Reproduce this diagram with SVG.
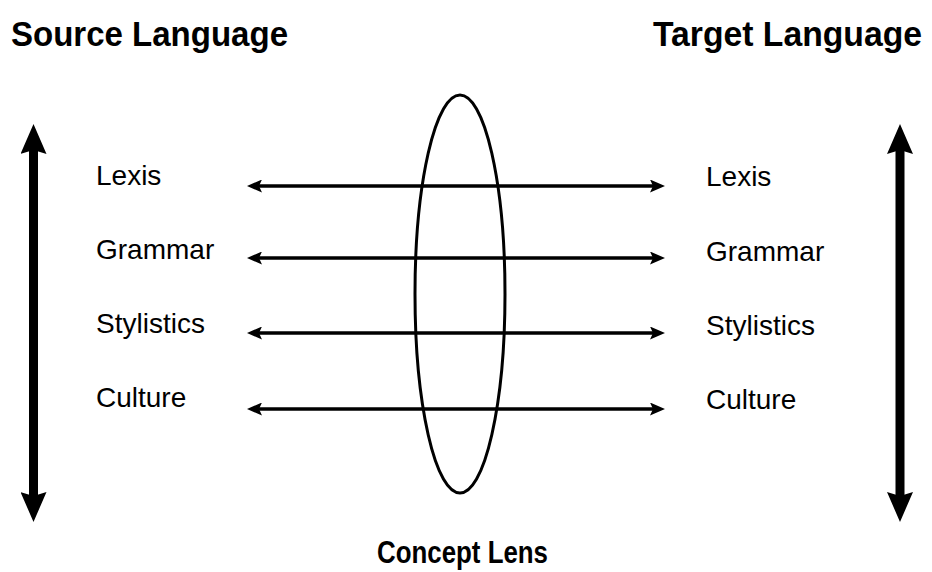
<svg xmlns="http://www.w3.org/2000/svg" width="932" height="572" viewBox="0 0 932 572">
<style>
.title{font-family:"Liberation Sans",Arial,sans-serif;font-weight:bold;font-size:35px;fill:#000}
.lbl{font-family:"Liberation Sans",Arial,sans-serif;font-size:28px;fill:#000}
.h{stroke:#000;stroke-width:3.5;fill:none}
.v{stroke:#000;stroke-width:9;fill:none}
</style>
<defs>
<marker id="ah" viewBox="0 0 15 13" refX="3" refY="6.5" markerWidth="15" markerHeight="13" markerUnits="userSpaceOnUse" orient="auto-start-reverse">
<path d="M0,0 L15,6.5 L0,13 L3,6.5 Z" fill="#000"/>
</marker>
<marker id="bh" viewBox="0 0 30 26" refX="4" refY="13" markerWidth="30" markerHeight="26" markerUnits="userSpaceOnUse" orient="auto-start-reverse">
<path d="M0,0 L30,13 L0,26 L4,13 Z" fill="#000"/>
</marker>
</defs>
<g id="titles">
<text class="title" x="11" y="46" textLength="277" lengthAdjust="spacingAndGlyphs">Source Language</text>
<text class="title" x="653" y="46" textLength="269" lengthAdjust="spacingAndGlyphs">Target Language</text>
<text class="title" x="377" y="563" style="font-size:31px" textLength="171" lengthAdjust="spacingAndGlyphs">Concept Lens</text>
</g>
<g id="lens">
<ellipse cx="460" cy="294" rx="45" ry="199" fill="none" stroke="#000" stroke-width="3"/>
</g>
<g id="source">
<text class="lbl" x="96" y="185">Lexis</text>
<text class="lbl" x="96" y="259">Grammar</text>
<text class="lbl" x="96" y="333">Stylistics</text>
<text class="lbl" x="96" y="407">Culture</text>
</g>
<g id="target">
<text class="lbl" x="706" y="186">Lexis</text>
<text class="lbl" x="706" y="261">Grammar</text>
<text class="lbl" x="706" y="335">Stylistics</text>
<text class="lbl" x="706" y="409">Culture</text>
</g>
<g id="connectors">
<line class="h" x1="259" y1="186" x2="653" y2="186" marker-start="url(#ah)" marker-end="url(#ah)"/>
<line class="h" x1="259" y1="258" x2="653" y2="258" marker-start="url(#ah)" marker-end="url(#ah)"/>
<line class="h" x1="259" y1="333" x2="653" y2="333" marker-start="url(#ah)" marker-end="url(#ah)"/>
<line class="h" x1="259" y1="409" x2="653" y2="409" marker-start="url(#ah)" marker-end="url(#ah)"/>
<line class="v" x1="33.5" y1="150" x2="33.5" y2="496" marker-start="url(#bh)" marker-end="url(#bh)"/>
<line class="v" x1="900" y1="150" x2="900" y2="496" marker-start="url(#bh)" marker-end="url(#bh)"/>
</g>
</svg>
